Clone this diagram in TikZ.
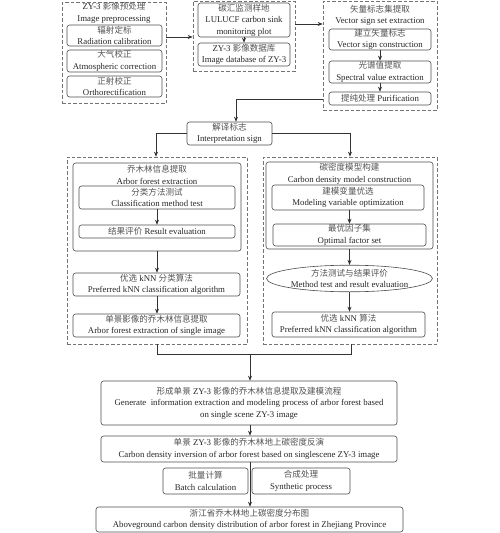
\documentclass[tikz,border=0pt]{standalone}
\usepackage{fontspec}
\setmainfont{Liberation Serif}
\newfontfamily\cjk[Scale=0.97]{Noto Sans CJK SC}
\newcommand{\zh}[1]{{\cjk\color{black!68}#1}}
\usetikzlibrary{arrows.meta,shapes.geometric}
\begin{document}
\begin{tikzpicture}[x=1pt,y=-1pt,
  every node/.style={font=\fontsize{8.8}{11.5}\selectfont, text=black!85, align=center, inner sep=0pt},
  sbox/.style={draw=black!70, line width=0.6pt, rounded corners=2.5pt},
  dbox/.style={draw=black!55, line width=0.7pt, dash pattern=on 3.5pt off 2pt},
  conn/.style={draw=black!80, line width=0.6pt},
  arr/.style={conn, -{Stealth[length=5pt,width=4pt]}}]
\useasboundingbox (0,0) rectangle (500,533);

% top-left dashed group
\node[dbox, minimum width=104pt, minimum height=101pt] (gA) at (114,53) {};
\node (tA) at (114,13) {ZY-3 \zh{影像预处理}\\Image preprocessing};
\node[sbox, minimum width=95pt, minimum height=21pt] (rad) at (114.5,35.5) {\zh{辐射定标}\\Radiation calibration};
\node[sbox, minimum width=95pt, minimum height=22pt] (atm) at (114.5,61) {\zh{大气校正}\\Atmospheric correction};
\node[sbox, minimum width=95pt, minimum height=21pt] (ort) at (114.5,86.5) {\zh{正射校正}\\Orthorectification};

% middle dashed group
\node[dbox, minimum width=102pt, minimum height=70pt] (gB) at (244,36) {};
\node[sbox, minimum width=92pt, minimum height=34pt] (plot) at (244,20) {\zh{碳汇监测样地}\\LULUCF carbon sink\\monitoring plot};
\node[sbox, minimum width=92pt, minimum height=23pt] (zydb) at (244,54.5) {ZY-3 \zh{影像数据库}\\Image database of ZY-3};

% right dashed group
\node[dbox, minimum width=114pt, minimum height=109pt] (gC) at (380,55.5) {};
\node (tC) at (380,15.5) {\zh{矢量标志集提取}\\Vector sign set extraction};
\node[sbox, minimum width=102pt, minimum height=21pt] (vsc) at (380,39.5) {\zh{建立矢量标志}\\Vector sign construction};
\node[sbox, minimum width=102pt, minimum height=22pt] (sve) at (380,72) {\zh{光谱值提取}\\Spectral value extraction};
\node[sbox, minimum width=102pt, minimum height=13pt] (pur) at (380,98.5) {\zh{提纯处理} Purification};

% interpretation sign
\node[sbox, minimum width=85pt, minimum height=23pt] (interp) at (229.5,133.5) {\zh{解译标志}\\Interpretation sign};

% left big group
\node[dbox, minimum width=180pt, minimum height=187pt] (gL) at (157,250.5) {};
\node[sbox, minimum width=168pt, minimum height=88pt] (arbor) at (157,207) {};
\node (tL) at (157,175) {\zh{乔木林信息提取}\\Arbor forest extraction};
\node[sbox, minimum width=156pt, minimum height=23pt] (cls) at (157,197.5) {\zh{分类方法测试}\\Classification method test};
\node[sbox, minimum width=156pt, minimum height=13pt] (res) at (157,231.5) {\zh{结果评价} Result evaluation};
\node[sbox, minimum width=167pt, minimum height=23pt] (knnA) at (156.5,284.5) {\zh{优选} kNN \zh{分类算法}\\Preferred kNN classification algorithm};
\node[sbox, minimum width=167pt, minimum height=23pt] (single) at (156.5,325.5) {\zh{单景影像的乔木林信息提取}\\Arbor forest extraction of single image};

% right big group
\node[dbox, minimum width=174pt, minimum height=187pt] (gR) at (350,250.5) {};
\node[sbox, minimum width=167pt, minimum height=87pt] (carbon) at (349.5,205.5) {};
\node (tR) at (349.5,174) {\zh{碳密度模型构建}\\Carbon density model construction};
\node[sbox, minimum width=152pt, minimum height=25pt] (mvo) at (348,197.5) {\zh{建模变量优选}\\Modeling variable optimization};
\node[sbox, minimum width=153pt, minimum height=22pt] (ofs) at (349.5,235) {\zh{最优因子集}\\Optimal factor set};
\node[ellipse, draw=black!70, line width=0.6pt, minimum width=145pt, minimum height=23pt] (meth) at (349.5,278.5) {\zh{方法测试与结果评价}\\Method test and result evaluation};
\node[sbox, minimum width=153pt, minimum height=25pt] (knnB) at (348.5,324.5) {\zh{优选} kNN \zh{算法}\\Preferred kNN classification algorithm};

% bottom chain
\node[sbox, minimum width=296pt, minimum height=44pt] (gen) at (249,403) {\zh{形成单景} ZY-3 \zh{影像的乔木林信息提取及建模流程}\\Generate\ \ information extraction and modeling process of arbor forest based\\on single scene ZY-3 image};
\node[sbox, minimum width=296pt, minimum height=26pt] (inv) at (249,449) {\zh{单景} ZY-3 \zh{影像的乔木林地上碳密度反演}\\Carbon density inversion of arbor forest based on singlescene ZY-3 image};
\node[sbox, minimum width=85pt, minimum height=26pt] (batch) at (205.5,481) {\zh{批量计算}\\Batch calculation};
\node[sbox, minimum width=98pt, minimum height=26pt] (synth) at (301,481) {\zh{合成处理}\\Synthetic process};
\node[sbox, minimum width=307pt, minimum height=25pt] (final) at (249.5,519.5) {\zh{浙江省乔木林地上碳密度分布图}\\Aboveground carbon density distribution of arbor forest in Zhejiang Province};

% coordinates
\coordinate (c1) at (236,99);
\coordinate (c2) at (156,133.5);
\coordinate (c3) at (350,133.5);
\coordinate (j1) at (157,354);
\coordinate (j2) at (351,354);
\coordinate (jm) at (250,354);

% connectors
\draw[arr] (gA.east |- 0,37) -- (gB.west |- 0,37);
\draw[arr] (gB.east |- 0,24) -- (gC.west |- 0,24);
\draw[arr] (plot.south) -- (zydb.north);
\draw[arr] (vsc.south) -- (sve.north);
\draw[arr] (sve.south) -- (pur.north);
\draw[arr] (gC.west |- 0,99) -- (c1) -- (c1 |- interp.north);
\draw[arr] (interp.west) -- (c2) -- (c2 |- gL.north);
\draw[arr] (interp.east) -- (c3) -- (c3 |- gR.north);
\draw[arr] (cls.south) -- (res.north);
\draw[arr] (arbor.south) -- (knnA.north -| arbor.south);
\draw[arr] (knnA.south -| arbor.south) -- (single.north -| arbor.south);
\draw[arr] (mvo.south -| meth.north) -- (ofs.north -| meth.north);
\draw[arr] (carbon.south -| meth.north) -- (meth.north);
\draw[arr] (meth.south) -- (knnB.north -| meth.south);
\draw[conn] (gL.south -| j1) -- (j1) -- (j2) -- (gR.south -| j2);
\draw[arr] (jm) -- (gen.north -| jm);
\draw[arr] (gen.south -| jm) -- (inv.north -| jm);
\draw[arr] (inv.south -| jm) -- (final.north -| jm);
\end{tikzpicture}
\end{document}
